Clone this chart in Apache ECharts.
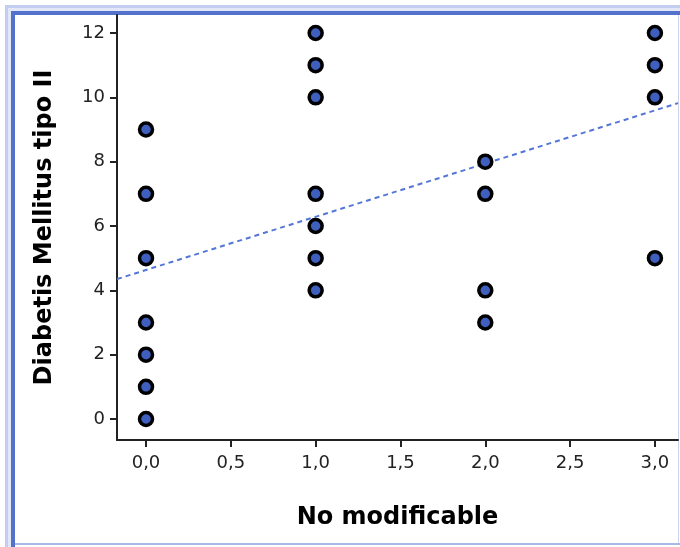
<!DOCTYPE html>
<html>
<head>
<meta charset="utf-8">
<script src="https://cdn.jsdelivr.net/npm/echarts@6/dist/echarts.min.js"></script>
<style>html,body{margin:0;padding:0;background:#fff}#c{width:680px;height:547px}</style>
</head>
<body>
<div id="c"></div>
<script>
// Data
const xValues = [0,0,0,0,0,0,0, 1,1,1,1,1,1,1, 2,2,2,2, 3,3,3,3];
const yValues = [0,1,2,3,5,7,9, 4,5,6,7,10,11,12, 3,4,7,8, 5,10,11,12];
const fitX = [-0.171, 3.136];
const fitY = [4.35, 9.82];
const xTicks = [0, 0.5, 1, 1.5, 2, 2.5, 3];
const yTicks = [0, 2, 4, 6, 8, 10, 12];
const xTitle = 'No modificable';
const yTitle = 'Diabetis Mellitus tipo II';

const points = xValues.map((x, i) => [x, yValues[i]]);
const fitLine = fitX.map((x, i) => [x, fitY[i]]);

const chart = echarts.init(document.getElementById('c'), null, {renderer: 'canvas'});
const fmt = v => v.toFixed(1).replace('.', ',');
chart.setOption({
  animation: false,
  backgroundColor: '#fff',
  grid: {left: 117, right: 2, top: 15, bottom: 107, containLabel: false},
  xAxis: {
    type: 'value', min: -0.171, max: 3.136,
    name: xTitle, nameLocation: 'middle', nameGap: 66,
    nameTextStyle: {fontFamily: 'DejaVu Sans', fontWeight: 'bold', fontSize: 24, color: '#000'},
    splitLine: {show: false},
    axisLine: {show: true, onZero: false, lineStyle: {color: '#222', width: 2}},
    axisTick: {show: true, customValues: xTicks, length: 7, lineStyle: {color: '#222', width: 2}},
    axisLabel: {customValues: xTicks, formatter: fmt, fontFamily: 'DejaVu Sans', fontSize: 18, color: '#222', margin: 14}
  },
  yAxis: {
    type: 'value', min: -0.653, max: 12.56,
    name: yTitle, nameLocation: 'middle', nameGap: 60, nameRotate: 90,
    nameTextStyle: {fontFamily: 'DejaVu Sans', fontWeight: 'bold', fontSize: 24, color: '#000'},
    splitLine: {show: false},
    axisLine: {show: true, onZero: false, lineStyle: {color: '#222', width: 2}},
    axisTick: {show: true, customValues: yTicks, length: 7, lineStyle: {color: '#222', width: 2}},
    axisLabel: {customValues: yTicks, fontFamily: 'DejaVu Sans', fontSize: 18, color: '#222', margin: 12}
  },
  series: [
    {
      type: 'line', data: fitLine, symbol: 'none', silent: true,
      lineStyle: {color: '#5476d6', width: 2, type: [5, 4]}, z: 1
    },
    {
      type: 'scatter', data: points, symbol: 'circle', symbolSize: 13,
      itemStyle: {color: '#3f5fbe', borderColor: '#000', borderWidth: 3.5, opacity: 1}, z: 2
    }
  ],
  graphic: [
    {type: 'rect', shape: {x: 5, y: 5, width: 3, height: 542}, style: {fill: '#c3cdef'}, silent: true},
    {type: 'rect', shape: {x: 8, y: 8, width: 3, height: 539}, style: {fill: '#e3e8f8'}, silent: true},
    {type: 'rect', shape: {x: 11, y: 11, width: 4, height: 536}, style: {fill: '#5472cb'}, silent: true},
    {type: 'rect', shape: {x: 5, y: 5, width: 675, height: 3}, style: {fill: '#c3cdef'}, silent: true},
    {type: 'rect', shape: {x: 8, y: 8, width: 672, height: 3}, style: {fill: '#e3e8f8'}, silent: true},
    {type: 'rect', shape: {x: 11, y: 11, width: 669, height: 4}, style: {fill: '#5472cb'}, silent: true},
    {type: 'rect', shape: {x: 15, y: 543, width: 665, height: 2}, style: {fill: '#a9b8e6'}, silent: true},
    {type: 'rect', shape: {x: 678, y: 15, width: 1, height: 528}, style: {fill: '#cdd4ea'}, silent: true}
  ]
});
</script>
</body>
</html>
